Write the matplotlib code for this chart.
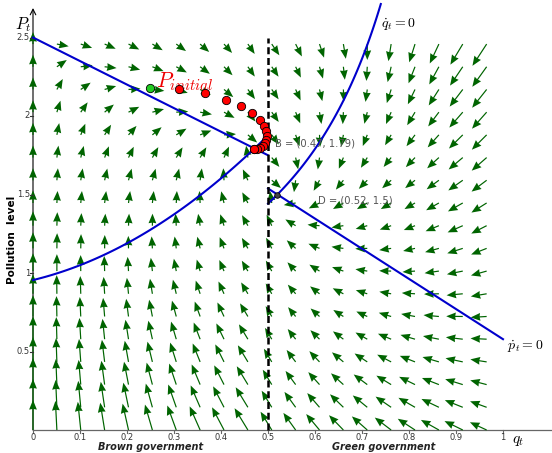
import numpy as np
import matplotlib
matplotlib.use('Agg')
import matplotlib.pyplot as plt

plt.rcParams['mathtext.fontset'] = 'cm'
plt.rcParams['font.family'] = ['DejaVu Sans']

# ---- data ----
q_ticks = [0, 0.1, 0.2, 0.3, 0.4, 0.5, 0.6, 0.7, 0.8, 0.9, 1]
q_tick_labels = ['0', '0.1', '0.2', '0.3', '0.4', '0.5', '0.6', '0.7', '0.8', '0.9', '1']
p_ticks = [0.5, 1, 1.5, 2, 2.5]
p_tick_labels = ['0.5', '1', '1.5', '2', '2.5']

# equilibria
B = (0.47, 1.79)
D = (0.52, 1.5)

# starting point and simulated path
p_init = (0.249, 2.178)
traj_q = [0.311, 0.365, 0.410, 0.443, 0.467, 0.482, 0.491, 0.496, 0.497,
          0.496, 0.494, 0.490, 0.484, 0.477, 0.471, 0.47]
traj_p = [2.170, 2.144, 2.104, 2.064, 2.017, 1.973, 1.936, 1.902, 1.873,
          1.847, 1.826, 1.809, 1.796, 1.788, 1.792, 1.79]

# model parameters (brown regime q<0.5, green regime q>=0.5)
pdot_left = (2.5, -1.5)            # p = a + b*q
pdot_right = (1.5, -1.92, 0.52)    # p = a + b*(q-q0)
qdot_left = (0.955, 0.723, 2.24)   # p = a + b*q + c*q^2
qdot_right = (0.7296, 1.01, 0.011) # p = a/(c-q) + d
kq, kp = 0.85, 1.0

# grid of the direction field
q_step, p_step = 0.0508, 0.1446
n_q, n_p = 20, 18

# ---- layout in pixels ----
W, H = 552, 453
sx, sy = 470.0, 157.0   # px per unit
ox, oy = 33.0, 430.0    # pixel position of the origin


def px(x, y):
    return (x - ox) / sx, (oy - y) / sy


def p_null(q):
    q = np.asarray(q, dtype=float)
    left = pdot_left[0] + pdot_left[1] * q
    right = pdot_right[0] + pdot_right[1] * (q - pdot_right[2])
    return np.where(q < 0.5, left, right)


def q_null(q):
    q = np.asarray(q, dtype=float)
    left = qdot_left[0] + qdot_left[1] * q + qdot_left[2] * q ** 2
    right = qdot_right[0] / (qdot_right[1] - q) + qdot_right[2]
    return np.where(q < 0.5, left, right)


def field(q, p):
    dq = kq * q * (1 - q) * (p - q_null(q))
    dp = kp * (p_null(q) - p)
    return dq, dp


fig = plt.figure(figsize=(W / 100, H / 100), dpi=100)
ax = fig.add_axes([0, 0, 1, 1])
ax.set_xlim(-ox / sx, (W - ox) / sx)
ax.set_ylim(-(H - oy) / sy, oy / sy)
ax.axis('off')

# direction field
Q, P = np.meshgrid(np.arange(n_q) * q_step, np.arange(n_p) * p_step)
dq, dp = field(Q, P)
dxp, dyp = dq * sx, dp * sy
mag = np.hypot(dxp, dyp)
L = np.clip(12 * mag / sy, 12, 32)
U = L * dxp / mag / sx
V = L * dyp / mag / sy
ax.quiver(Q, P, U, V, angles='xy', scale_units='xy', scale=1, units='dots',
          width=1.2, headwidth=6.5, headlength=8, headaxislength=7.5,
          color='#006400', pivot='tail', zorder=2)

# axes
ax.plot([0, (W - ox) / sx], [0, 0], color='#666666', lw=0.9, zorder=1)
ax.annotate('', xy=(0, px(0, 8)[1]), xytext=(0, 0),
            arrowprops=dict(arrowstyle='->', color='black', lw=0.8,
                            shrinkA=0, shrinkB=0), zorder=1)
for q, lab in zip(q_ticks, q_tick_labels):
    ax.plot([q, q], [0, -3 / sy], color='#666666', lw=0.8)
    ax.text(q, px(0, 437)[1], lab, fontsize=6, ha='center', va='center', color='#333333')
for p, lab in zip(p_ticks, p_tick_labels):
    ax.plot([-3 / sx, 0], [p, p], color='#333333', lw=0.8)
    ax.text(px(30, 0)[0], p, lab, fontsize=6, ha='right', va='center', color='#333333')

# nullclines, one piece per regime
ql = np.linspace(0, 0.4999, 100)
qr_line = np.linspace(0.5, 1.0, 100)
qr_curve = np.linspace(0.5, 0.74, 100)
ax.plot(ql, p_null(ql), color='#0000cc', lw=1.5, zorder=3)
ax.plot(qr_line, p_null(qr_line), color='#0000cc', lw=1.5, zorder=3)
ax.plot(ql, q_null(ql), color='#0000cc', lw=1.5, zorder=3)
ax.plot(qr_curve, q_null(qr_curve), color='#0000cc', lw=1.5, zorder=3)

# regime switch
ax.plot([0.5, 0.5], [0, 2.5], color='black', lw=1.8, ls=(0, (2.8, 1.5)), zorder=4)

# equilibria and path
ax.plot(*D, 'o', ms=4, mfc='#444444', mec='black', mew=0.6, zorder=5)
ax.plot(*B, 'o', ms=4, mfc='#444444', mec='black', mew=0.6, zorder=5)
ax.plot(traj_q, traj_p, 'o', ls='none', ms=6, mfc='#ff0000', mec='black', mew=0.6, zorder=6)
ax.plot(*p_init, 'o', ms=6, mfc='#22cc22', mec='black', mew=0.6, zorder=6)

# labels
ax.text(*px(23, 25), r'$P_t$', fontsize=12, ha='center', va='center')
ax.text(*px(518, 441), r'$q_t$', fontsize=11, ha='center', va='center')
ax.text(*px(381, 25), r'$\dot{q}_t = 0$', fontsize=10, ha='left', va='center')
ax.text(*px(507, 347), r'$\dot{p}_t = 0$', fontsize=10, ha='left', va='center')
ax.text(*px(156, 82), r'$P_{initial}$', fontsize=15.5, ha='left', va='center', color='#ee0000')
ax.text(*px(275, 143), 'B = (0.47, 1.79)', fontsize=7.2, ha='left', va='center', color='#555555')
ax.text(*px(318, 200), 'D = (0.52, 1.5)', fontsize=7.2, ha='left', va='center', color='#555555')
ax.text(*px(151, 447), 'Brown government', fontsize=7, ha='center', va='center',
        fontweight='bold', style='italic', color='#222222')
ax.text(*px(384, 447), 'Green government', fontsize=7, ha='center', va='center',
        fontweight='bold', style='italic', color='#222222')
ax.text(*px(12, 240), 'Pollution  level', fontsize=7.5, ha='center', va='center',
        rotation=90, fontweight='bold')

fig.savefig('out.png', dpi=100)
